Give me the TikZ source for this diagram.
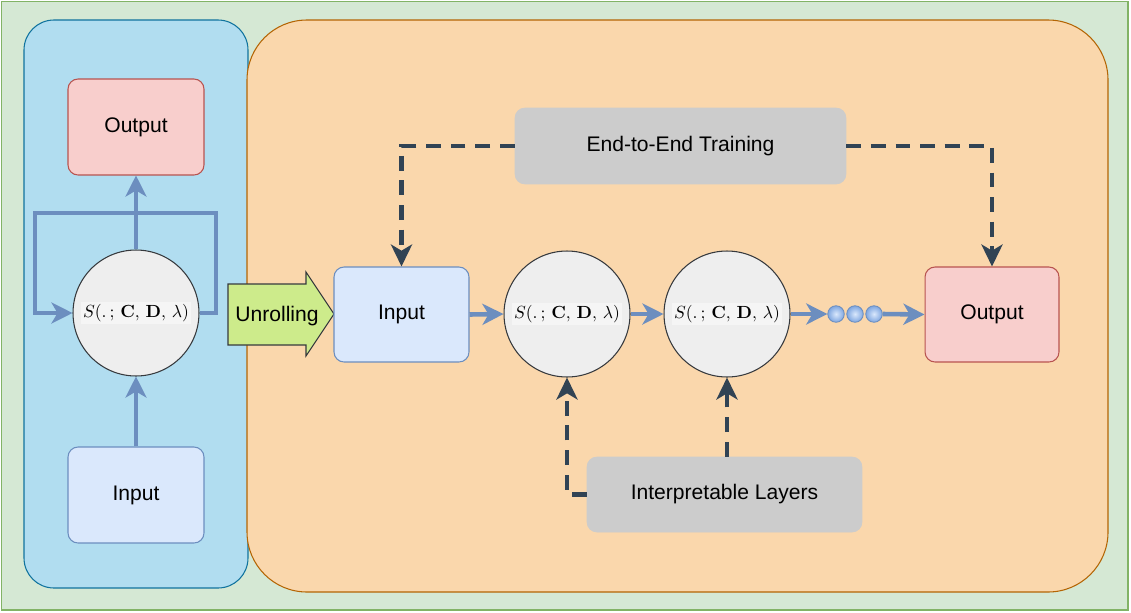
\documentclass[tikz,border=0pt]{standalone}
\usepackage{amsmath}
\usepackage[no-math]{fontspec}
\setmainfont{Liberation Sans}
\usetikzlibrary{arrows.meta}
\definecolor{bggreen}{HTML}{D5E8D4}
\definecolor{bggreenS}{HTML}{82B366}
\definecolor{pblue}{HTML}{B1DDF0}
\definecolor{pblueS}{HTML}{10739E}
\definecolor{porange}{HTML}{FAD7AC}
\definecolor{porangeS}{HTML}{B46504}
\definecolor{outF}{HTML}{F8CECC}
\definecolor{outS}{HTML}{B85450}
\definecolor{inF}{HTML}{DAE8FC}
\definecolor{inS}{HTML}{6C8EBF}
\definecolor{cirF}{HTML}{EEEEEE}
\definecolor{cirS}{HTML}{36393D}
\definecolor{grayF}{HTML}{CCCCCC}
\definecolor{dashC}{HTML}{314354}
\definecolor{unrF}{HTML}{CDEB8B}
\definecolor{lblF}{HTML}{F5F5F5}
\definecolor{dotO}{HTML}{7EA6E0}
\newcommand{\slbl}{{\setlength{\fboxsep}{1pt}\colorbox{lblF}{$S(.\,;\,\mathbf{C},\,\mathbf{D},\,\lambda)$}}}
\tikzset{
  txt/.style={font=\fontsize{12}{14}\selectfont},
  outbox/.style={txt,draw=outS,fill=outF,line width=0.6pt,rounded corners=0.2cm,inner sep=0pt},
  inbox/.style={txt,draw=inS,fill=inF,line width=0.6pt,rounded corners=0.2cm,inner sep=0pt},
  graybox/.style={txt,draw=grayF,fill=grayF,rounded corners=0.2cm,inner sep=0pt},
  layer/.style={circle,draw=cirS,fill=cirF,line width=0.6pt,minimum size=2.52cm,inner sep=0pt},
  dotnode/.style={circle,draw=inS,line width=0.5pt,inner color=inF,outer color=dotO,minimum size=0.33cm,inner sep=0pt},
  flow/.style={draw=inS,line width=2.6pt,-{Stealth[length=12pt,width=12pt,inset=3.5pt]}},
  ctrl/.style={draw=dashC,line width=2.3pt,dash pattern=on 8.5pt off 5.5pt,-{Stealth[length=12.5pt,width=12pt,inset=3.5pt]}}
}
\begin{document}
\begin{tikzpicture}[x=0.02cm,y=-0.02cm]
\useasboundingbox (0,0) rectangle (1131,612);
% backgrounds
\draw[fill=bggreen,draw=bggreenS,line width=0.6pt] (1.5,1.5) rectangle (1128,610);
\draw[fill=pblue,draw=pblueS,line width=0.6pt,rounded corners=0.6cm] (24,20) rectangle (248,588);
\draw[fill=porange,draw=porangeS,line width=0.6pt,rounded corners=1.2cm] (247,20) rectangle (1108,592);
% left panel
\node[outbox,minimum width=2.72cm,minimum height=1.92cm] (out1) at (136,127) {Output};
\node[inbox,minimum width=2.72cm,minimum height=1.92cm] (in1) at (136,495) {Input};
\node[layer] (c1) at (136,313) {\slbl};
\coordinate (lr) at (216,213);
\coordinate (ll) at (35,213);
\draw[flow] (in1.north) -- (c1.south);
\draw[flow] (c1.north) -- (out1.south);
\draw[flow] (c1.east) -| (lr) -- (ll) |- (c1.west);
% unrolling arrow
\draw[fill=unrF,draw=cirS,line width=0.6pt] (228,284) -- (306,284) -- (306,272) -- (334,314) -- (306,356) -- (306,345) -- (228,345) -- cycle;
\node[txt] (unr) at (277,316) {Unrolling};
% right panel
\node[inbox,minimum width=2.70cm,minimum height=1.90cm] (in2) at (401.5,314.5) {Input};
\node[layer] (c2) at (567,314) {\slbl};
\node[layer] (c3) at (727,314) {\slbl};
\node[dotnode] (d1) at (836,314) {};
\node[dotnode] (d2) at (855,314) {};
\node[dotnode] (d3) at (874,314) {};
\node[outbox,minimum width=2.68cm,minimum height=1.90cm] (out2) at (992,314.5) {Output};
\node[graybox,minimum width=6.62cm,minimum height=1.52cm] (e2e) at (680.5,146) {End-to-End Training};
\node[graybox,minimum width=5.50cm,minimum height=1.50cm] (il) at (724.5,494.5) {Interpretable Layers};
% flow
\draw[flow] (in2.east) -- (c2.west);
\draw[flow] (c2.east) -- (c3.west);
\draw[flow] (c3.east) -- (d1.west);
\draw[flow] (d3.east) -- (out2.west);
% control
\draw[ctrl] (e2e.west) -| (in2.north);
\draw[ctrl] (e2e.east) -| (out2.north);
\draw[ctrl] (il.west) -| (c2.south);
\draw[ctrl] (c3.south |- il.north) -- (c3.south);
\end{tikzpicture}
\end{document}
